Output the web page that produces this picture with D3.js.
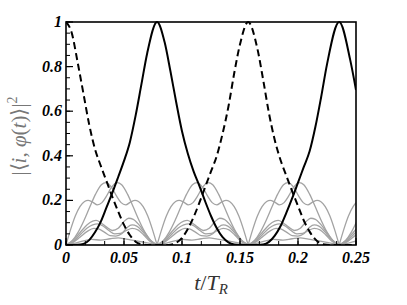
<!DOCTYPE html>
<html>
<head>
<meta charset="utf-8">
<script src="https://cdn.jsdelivr.net/npm/d3@7"></script>
<style>
  body { margin: 0; background: #fff; }
</style>
</head>
<body>
<svg id="mainSVG" width="407" height="305"></svg>
<script>
// axis ticks
const xTicks = [0, 0.05, 0.1, 0.15, 0.2, 0.25];
const xTickLabels = ["0", "0.05", "0.1", "0.15", "0.2", "0.25"];
const yTicks = [0, 0.2, 0.4, 0.6, 0.8, 1];
const yTickLabels = ["0", "0.2", "0.4", "0.6", "0.8", "1"];

// |<i,phi(t)>|^2 for the two main states, [t/T_R, value]
const dashedState = [
  [0, 1], [0.005, 0.95], [0.01, 0.82], [0.015, 0.68], [0.02, 0.54], [0.025, 0.43],
  [0.03, 0.355], [0.035, 0.285], [0.04, 0.215], [0.045, 0.15], [0.05, 0.09], [0.055, 0.045],
  [0.06, 0.015], [0.065, 0.003], [0.07, 0], [0.075, 0], [0.08, 0], [0.085, 0],
  [0.09, 0.001], [0.095, 0.01], [0.1, 0.032], [0.105, 0.072], [0.11, 0.125], [0.115, 0.19],
  [0.12, 0.26], [0.125, 0.33], [0.13, 0.4], [0.135, 0.5], [0.14, 0.62], [0.145, 0.77],
  [0.15, 0.9], [0.157, 1], [0.165, 0.88], [0.17, 0.74], [0.175, 0.59], [0.18, 0.47],
  [0.185, 0.38], [0.19, 0.31], [0.195, 0.24], [0.2, 0.175], [0.205, 0.11], [0.21, 0.06],
  [0.215, 0.025], [0.22, 0.006], [0.225, 0.001], [0.23, 0], [0.24, 0], [0.25, 0]
];
const solidState = [
  [0, 0], [0.005, 0], [0.01, 0.001], [0.015, 0.005], [0.02, 0.022], [0.025, 0.057],
  [0.03, 0.105], [0.035, 0.17], [0.04, 0.235], [0.045, 0.305], [0.05, 0.377], [0.055, 0.46],
  [0.06, 0.58], [0.065, 0.72], [0.07, 0.86], [0.0785, 1], [0.085, 0.91], [0.09, 0.78],
  [0.095, 0.64], [0.1, 0.51], [0.105, 0.41], [0.11, 0.33], [0.115, 0.265], [0.12, 0.195],
  [0.125, 0.13], [0.13, 0.075], [0.135, 0.035], [0.14, 0.012], [0.145, 0.002], [0.15, 0],
  [0.16, 0], [0.165, 0], [0.17, 0.002], [0.175, 0.014], [0.18, 0.042], [0.185, 0.085],
  [0.19, 0.145], [0.195, 0.21], [0.2, 0.28], [0.205, 0.35], [0.21, 0.42], [0.215, 0.53],
  [0.22, 0.665], [0.225, 0.81], [0.2355, 1], [0.245, 0.83], [0.25, 0.695]
];

// the other states repeat every half period, profile over one half period [s, value]
const segmentStarts = [0, 0.0785, 0.157, 0.2355];
const grayA = [[0,0],[0.004,0.07],[0.008,0.13],[0.012,0.172],[0.016,0.195],[0.019,0.2],[0.023,0.192],[0.027,0.18],[0.031,0.19],[0.035,0.22],[0.039,0.257],[0.044,0.28],[0.048,0.27],[0.053,0.228],[0.058,0.17],[0.063,0.11],[0.068,0.058],[0.073,0.02],[0.0785,0]];
const grayB = [[0,0],[0.0055,0.02],[0.0105,0.058],[0.0155,0.11],[0.0205,0.17],[0.0255,0.228],[0.0305,0.27],[0.0345,0.28],[0.0395,0.257],[0.0435,0.22],[0.0475,0.19],[0.0515,0.18],[0.0555,0.192],[0.0595,0.2],[0.0625,0.195],[0.0665,0.172],[0.0705,0.13],[0.0745,0.07],[0.0785,0]];
const grayC = [[0,0],[0.006,0.02],[0.012,0.055],[0.018,0.09],[0.023,0.107],[0.026,0.11],[0.03,0.1],[0.035,0.08],[0.04,0.065],[0.045,0.075],[0.05,0.105],[0.054,0.12],[0.058,0.115],[0.063,0.09],[0.068,0.055],[0.073,0.02],[0.0785,0]];
const grayD = [[0,0],[0.006,0.015],[0.012,0.045],[0.018,0.075],[0.023,0.09],[0.027,0.095],[0.032,0.085],[0.037,0.065],[0.042,0.05],[0.047,0.052],[0.052,0.065],[0.057,0.075],[0.062,0.068],[0.067,0.045],[0.072,0.018],[0.0785,0]];
const grayF = [[0,0],[0.006,0.012],[0.012,0.035],[0.018,0.06],[0.024,0.075],[0.028,0.072],[0.033,0.058],[0.038,0.042],[0.043,0.04],[0.048,0.05],[0.053,0.08],[0.057,0.09],[0.061,0.085],[0.066,0.06],[0.071,0.028],[0.0785,0]];
const grayE = [[0,0],[0.008,0.008],[0.016,0.02],[0.022,0.025],[0.03,0.022],[0.038,0.028],[0.045,0.032],[0.052,0.026],[0.06,0.02],[0.068,0.012],[0.0785,0]];
const grayStates = [grayA, grayB, grayC, grayD, grayF, grayE];

const serif = "'Liberation Serif', 'Times New Roman', serif";

const svg = d3.select("#mainSVG");
const margin = {left: 66, top: 22, right: 51, bottom: 60};
const W = +svg.attr("width"), H = +svg.attr("height");
const iw = W - margin.left - margin.right, ih = H - margin.top - margin.bottom;

const x = d3.scaleLinear().domain([0, 0.25]).range([0, iw]);
const y = d3.scaleLinear().domain([0, 1]).range([ih, 0]);

svg.append("defs").append("clipPath").attr("id", "plotClip")
  .append("rect").attr("width", iw).attr("height", ih + 1).attr("y", -1);

const g = svg.append("g").attr("transform", `translate(${margin.left},${margin.top})`);
const plot = g.append("g").attr("clip-path", "url(#plotClip)");

const line = d3.line().x(d => x(d[0])).y(d => y(d[1])).curve(d3.curveMonotoneX);

// gray states
segmentStarts.forEach(t0 => {
  grayStates.forEach(prof => {
    plot.append("path")
      .datum(prof.map(p => [p[0] + t0, p[1]]))
      .attr("fill", "none")
      .attr("stroke", "#a3a3a3")
      .attr("stroke-width", 1.3)
      .attr("d", line);
  });
});

plot.append("path").datum(dashedState)
  .attr("fill", "none").attr("stroke", "#000").attr("stroke-width", 2)
  .attr("stroke-dasharray", "7,4").attr("d", line);

plot.append("path").datum(solidState)
  .attr("fill", "none").attr("stroke", "#000").attr("stroke-width", 2)
  .attr("d", line);

// ticks (inward)
const xMinor = d3.range(0, 0.2501, 0.05 / 3);
const yMinor = d3.range(0, 1.0001, 0.05);
g.selectAll(".xminor").data(xMinor).join("line")
  .attr("x1", d => x(d)).attr("x2", d => x(d)).attr("y1", ih).attr("y2", ih - 4)
  .attr("stroke", "#000").attr("stroke-width", 1);
g.selectAll(".yminor").data(yMinor).join("line")
  .attr("x1", 0).attr("x2", 4).attr("y1", d => y(d)).attr("y2", d => y(d))
  .attr("stroke", "#000").attr("stroke-width", 1);
g.selectAll(".xmajor").data(xTicks).join("line")
  .attr("x1", d => x(d)).attr("x2", d => x(d)).attr("y1", ih).attr("y2", ih - 7)
  .attr("stroke", "#000").attr("stroke-width", 1.2);
g.selectAll(".ymajor").data(yTicks).join("line")
  .attr("x1", 0).attr("x2", 7).attr("y1", d => y(d)).attr("y2", d => y(d))
  .attr("stroke", "#000").attr("stroke-width", 1.2);

// frame
g.append("rect").attr("width", iw).attr("height", ih)
  .attr("fill", "none").attr("stroke", "#000").attr("stroke-width", 1.6);

// tick labels
g.selectAll(".xlab").data(xTicks).join("text")
  .attr("x", d => x(d)).attr("y", ih + 18)
  .attr("text-anchor", "middle")
  .attr("font-family", serif).attr("font-weight", "bold").attr("font-style", "italic")
  .attr("font-size", 16)
  .text((d, i) => xTickLabels[i]);
g.selectAll(".ylab").data(yTicks).join("text")
  .attr("x", -4).attr("y", d => y(d) + 5)
  .attr("text-anchor", "end")
  .attr("font-family", serif).attr("font-weight", "bold").attr("font-style", "italic")
  .attr("font-size", 16)
  .text((d, i) => yTickLabels[i]);

// axis titles
const xt = svg.append("text")
  .attr("x", margin.left + iw / 2).attr("y", 290)
  .attr("text-anchor", "middle")
  .attr("font-family", serif).attr("font-size", 22)
  .attr("fill", "#333");
xt.append("tspan").attr("font-style", "italic").text("t");
xt.append("tspan").text("/");
xt.append("tspan").attr("font-style", "italic").text("T");
xt.append("tspan").attr("font-style", "italic").attr("font-size", 15).attr("dy", 4).text("R");

const yt = svg.append("text")
  .attr("transform", "translate(26,136) rotate(-90)")
  .attr("text-anchor", "middle")
  .attr("font-family", serif).attr("font-size", 21)
  .attr("fill", "#777");
yt.append("tspan").text("|⟨");
yt.append("tspan").attr("font-style", "italic").text("i");
yt.append("tspan").text(", ");
yt.append("tspan").attr("font-style", "italic").text("φ");
yt.append("tspan").text("(");
yt.append("tspan").attr("font-style", "italic").text("t");
yt.append("tspan").text(")⟩|");
yt.append("tspan").attr("font-size", 14).attr("dy", -9).text("2");
</script>
</body>
</html>
